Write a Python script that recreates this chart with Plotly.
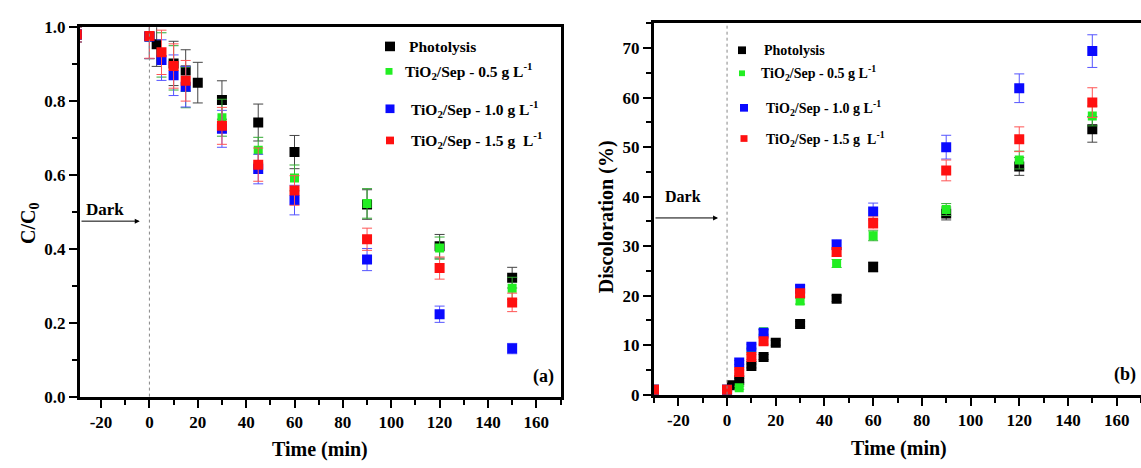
import plotly.graph_objects as go

# ---------------- data (panel a: C/C0) ----------------
t_black_a = [-30, 0, 3, 10, 15, 20, 30, 45, 60, 90, 120, 150]
c_black = [0.98, 0.975, 0.954, 0.902, 0.883, 0.850, 0.803, 0.742, 0.662, 0.52, 0.407, 0.322]
e_black = [0.02, 0.06, 0.06, 0.06, 0.056, 0.055, 0.052, 0.05, 0.045, 0.04, 0.032, 0.028]

t_cat_a = [-30, 0, 5, 10, 15, 30, 45, 60, 90, 120, 150]
c_green = [0.98, 0.975, 0.925, 0.89, 0.837, 0.755, 0.667, 0.592, 0.523, 0.402, 0.293]
e_green = [0.02, 0.06, 0.06, 0.06, 0.055, 0.05, 0.035, 0.035, 0.04, 0.03, 0.03]
c_blue = [0.98, 0.975, 0.911, 0.870, 0.839, 0.725, 0.616, 0.532, 0.371, 0.223, 0.130]
e_blue = [0.02, 0.06, 0.055, 0.055, 0.055, 0.05, 0.04, 0.04, 0.03, 0.022, 0.014]
c_red = [0.98, 0.976, 0.932, 0.895, 0.855, 0.733, 0.628, 0.558, 0.426, 0.348, 0.255]
e_red = [0.02, 0.06, 0.06, 0.06, 0.055, 0.05, 0.045, 0.04, 0.03, 0.03, 0.025]

# ---------------- data (panel b: Discoloration %) ----------------
t_black_b = [-30, 0, 2, 5, 10, 15, 20, 30, 45, 60, 90, 120, 150]
d_black = [1.0, 1.0, 1.9, 2.9, 5.8, 7.6, 10.5, 14.3, 19.4, 25.8, 36.6, 46.1, 53.6]
de_black = [0.3, 0.3, 0.3, 0.4, 0.4, 0.5, 0.5, 0.5, 0.6, 1.0, 1.3, 1.8, 2.6]

t_cat_b = [-30, 0, 5, 10, 15, 30, 45, 60, 90, 120, 150]
d_green = [1.0, 1.0, 1.4, 9.0, 12.7, 18.9, 26.5, 32.1, 37.4, 47.4, 56.3]
de_green = [0.3, 0.3, 0.3, 0.4, 0.5, 0.6, 0.8, 1.0, 1.2, 1.8, 2.0]
d_blue = [1.0, 1.0, 6.5, 9.7, 12.5, 21.4, 30.3, 37.0, 50.0, 61.9, 69.4]
de_blue = [0.3, 0.3, 0.4, 0.5, 0.6, 0.7, 1.0, 1.7, 2.4, 2.9, 3.3]
d_red = [1.0, 1.0, 4.6, 7.6, 10.8, 20.5, 28.8, 34.7, 45.3, 51.6, 59.0]
de_red = [0.3, 0.3, 0.4, 0.5, 0.6, 0.7, 0.8, 1.2, 2.1, 2.5, 3.0]

# tick labels
x_tickvals = [-20, 0, 20, 40, 60, 80, 100, 120, 140, 160]
x_ticktext = ["-20", "0", "20", "40", "60", "80", "100", "120", "140", "160"]
ya_tickvals = [0.0, 0.2, 0.4, 0.6, 0.8, 1.0]
ya_ticktext = ["0.0", "0.2", "0.4", "0.6", "0.8", "1.0"]
yb_tickvals = [0, 10, 20, 30, 40, 50, 60, 70]
yb_ticktext = ["0", "10", "20", "30", "40", "50", "60", "70"]

series_names = ["Photolysis",
                "TiO<sub>2</sub>/Sep - 0.5 g L<sup>-1</sup>",
                "TiO<sub>2</sub>/Sep - 1.0 g L<sup>-1</sup>",
                "TiO<sub>2</sub>/Sep - 1.5 g  L<sup>-1</sup>"]
colors = ["#000000", "#22ee22", "#0a0aff", "#ff1010"]
err_colors = ["#444444", "#33aa33", "#5555ff", "#ff5555"]

W, H = 1141, 468
FONT = "Liberation Serif, Times New Roman, serif"

fig = go.Figure()

def add(x, y, e, ci, xa, ya, size=10):
    fig.add_trace(go.Scatter(
        x=x, y=y, mode="markers", xaxis=xa, yaxis=ya, showlegend=False,
        marker=dict(symbol="square", size=size, color=colors[ci], line=dict(width=0)),
        error_y=dict(type="data", array=e, visible=True, color=err_colors[ci],
                     thickness=1, width=5),
    ))

add(t_black_a, c_black, e_black, 0, "x", "y")
add(t_cat_a, c_green, e_green, 1, "x", "y", 9)
add(t_cat_a, c_blue, e_blue, 2, "x", "y")
add(t_cat_a, c_red, e_red, 3, "x", "y")

add(t_black_b, d_black, de_black, 0, "x2", "y2")
add(t_cat_b, d_green, de_green, 1, "x2", "y2", 9)
add(t_cat_b, d_blue, de_blue, 2, "x2", "y2")
add(t_cat_b, d_red, de_red, 3, "x2", "y2")

def px_x(p):
    return p / W

def px_y(p):
    return 1 - p / H

tickfont = dict(family=FONT, size=17, color="black", weight="bold")
minor_style = dict(ticklen=5, tickwidth=2, tickcolor="black", ticks="outside")
common_x = dict(showline=True, linewidth=3, linecolor="black", ticks="outside",
                ticklen=8, tickwidth=2, tickcolor="black",
                tickmode="array", tickvals=x_tickvals, ticktext=x_ticktext,
                minor=dict(dtick=10, tick0=0, **minor_style),
                showgrid=False, zeroline=False, tickfont=tickfont)
common_y = dict(showline=True, linewidth=3, linecolor="black", ticks="outside",
                ticklen=8, tickwidth=2, tickcolor="black",
                showgrid=False, zeroline=False, tickfont=tickfont)

fig.update_layout(
    width=W, height=H, margin=dict(l=0, r=0, t=0, b=0),
    paper_bgcolor="white", plot_bgcolor="white",
    font=dict(family=FONT, color="black"),
    xaxis=dict(domain=[px_x(80), px_x(561)], range=[-28.7, 170.2], anchor="y",
               mirror=True, **common_x),
    yaxis=dict(domain=[px_y(404), px_y(19)], range=[0, 1.0], anchor="x",
               mirror=True, tickmode="array", tickvals=ya_tickvals, ticktext=ya_ticktext,
               minor=dict(dtick=0.1, tick0=0, **minor_style),
               **common_y),
    xaxis2=dict(domain=[px_x(654), 1.0], range=[-30, 170], anchor="y2",
                mirror=True, **common_x),
    yaxis2=dict(domain=[px_y(402), px_y(15)], range=[0, 75], anchor="x2",
                mirror=False, tickmode="array", tickvals=yb_tickvals, ticktext=yb_ticktext,
                minor=dict(dtick=5, tick0=0, **minor_style),
                **common_y),
)

# dotted vertical lines at t=0
for xr, yr in (("x", "y domain"), ("x2", "y2 domain")):
    fig.add_shape(type="line", xref=xr, yref=yr, x0=0, x1=0, y0=0, y1=1,
                  line=dict(color="#888888", width=1, dash="dot"))

ann = []

def txt(x, y, text, size, xanchor="left", angle=0):
    ann.append(dict(xref="paper", yref="paper", x=px_x(x), y=px_y(y), text=text,
                    showarrow=False, xanchor=xanchor, yanchor="middle", textangle=angle,
                    font=dict(family=FONT, size=size, color="black", weight="bold")))

# axis titles
txt(320, 459, "Time (min)", 20, "center")
txt(899, 458, "Time (min)", 20, "center")
txt(30, 224, "C/C<sub>0</sub>", 20, "center", -90)
txt(606, 217, "Discoloration (%)", 20, "center", -90)

# panel labels
txt(543, 383, "(a)", 18, "center")
txt(1125, 381, "(b)", 18, "center")

# Dark labels + arrows
txt(105, 209, "Dark", 17, "center")
txt(683, 195, "Dark", 16, "center")
ann.append(dict(xref="x", yref="y", axref="x", ayref="y", x=-4, y=0.475, ax=-28.7, ay=0.475,
                showarrow=True, arrowhead=2, arrowsize=1, arrowwidth=1, arrowcolor="black", text=""))
ann.append(dict(xref="x2", yref="y2", axref="x2", ayref="y2", x=-3.7, y=35.7, ax=-30, ay=35.7,
                showarrow=True, arrowhead=2, arrowsize=1, arrowwidth=1, arrowcolor="black", text=""))

# legends (manual)
leg_a = [(390, 39, 10, 407), (389, 65, 7, 403), (390, 104, 9, 409), (390, 137, 8, 409)]
leg_b = [(742, 43, 8, 762), (742, 67, 6, 759), (744, 103, 8, 764), (744, 135, 7, 764)]
for leg, fs in ((leg_a, 15.5), (leg_b, 14)):
    for i, (mx, my, ms, tx) in enumerate(leg):
        fig.add_shape(type="rect", xref="paper", yref="paper",
                      x0=px_x(mx - ms / 2), x1=px_x(mx + ms / 2),
                      y0=px_y(my + ms / 2), y1=px_y(my - ms / 2),
                      fillcolor=colors[i], line=dict(width=0))
        txt(tx, my, series_names[i], fs)

fig.update_layout(annotations=ann)
fig.write_html("out.html")
